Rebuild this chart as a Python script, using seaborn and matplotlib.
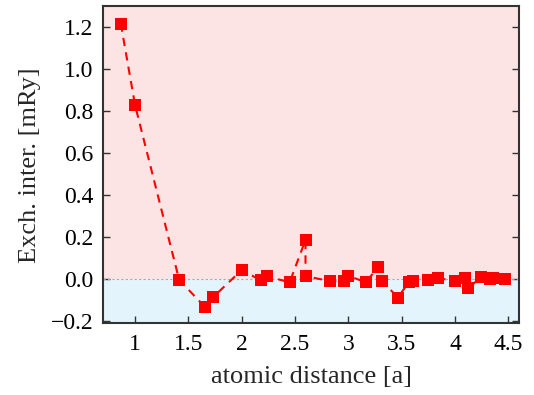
import numpy as np
import pandas as pd
import matplotlib
matplotlib.use('Agg')
import matplotlib.pyplot as plt
import seaborn as sns

# distances (bcc shells, units of a) and exchange interactions [mRy]
distance = [0.866, 1.0, 1.414, 1.658, 1.732, 2.0, 2.179, 2.236, 2.449, 2.598, 2.598,
            2.828, 2.958, 3.0, 3.162, 3.279, 3.317, 3.464, 3.571, 3.606, 3.742, 3.841,
            4.0, 4.093, 4.123, 4.243, 4.330, 4.359, 4.472]
exchange = [1.218, 0.829, -0.005, -0.134, -0.086, 0.043, -0.006, 0.014, -0.016, 0.187, 0.014,
            -0.010, -0.011, 0.015, -0.015, 0.056, -0.010, -0.088, -0.012, -0.008, -0.005, 0.005,
            -0.010, 0.005, -0.045, 0.010, 0.000, 0.005, 0.000]

xticks = [1, 1.5, 2, 2.5, 3, 3.5, 4, 4.5]
xticklabels = ['1', '1.5', '2', '2.5', '3', '3.5', '4', '4.5']
yticks = [-0.2, 0.0, 0.2, 0.4, 0.6, 0.8, 1.0, 1.2]
yticklabels = ['\u22120.2', '0.0', '0.2', '0.4', '0.6', '0.8', '1.0', '1.2']

df = pd.DataFrame({'d': distance, 'J': exchange})

sns.set_style('ticks')
plt.rcParams['font.family'] = ['Liberation Serif', 'DejaVu Serif']

fig = plt.figure(figsize=(5.34, 3.95), dpi=100)
ax = fig.add_axes([0.193, 0.182, 0.779, 0.802])

xmin, xmax = 0.70, 4.60
ymin, ymax = -0.21, 1.30

# fond rose (J > 0) et bleu (J < 0)
ax.axhspan(0, ymax, color='#fde4e4', zorder=0, lw=0)
ax.axhspan(ymin, 0, color='#e4f4fc', zorder=0, lw=0)
ax.axhline(0, color='#aaaaaa', lw=0.8, ls=(0, (2, 2)), zorder=1)

sns.lineplot(data=df, x='d', y='J', sort=False, estimator=None, ax=ax,
             color='red', lw=1.5, ls=(0, (4, 3)), marker='s', markersize=8,
             markeredgewidth=0, zorder=3)

ax.set_xlim(xmin, xmax)
ax.set_ylim(ymin, ymax)
ax.set_xticks(xticks)
ax.set_xticklabels(xticklabels)
ax.set_yticks(yticks)
ax.set_yticklabels(yticklabels)

ax.tick_params(direction='in', length=5, width=1, colors='#333333',
               labelcolor='black', labelsize=17, right=True, top=False)
ax.tick_params(axis='x', pad=8)
ax.tick_params(axis='y', pad=7)
for s in ax.spines.values():
    s.set_linewidth(1.5)
    s.set_color('#333333')

ax.set_xlabel('atomic distance [a]', fontsize=19, labelpad=8)
ax.set_ylabel('Exch. inter. [mRy]', fontsize=19, labelpad=7)

fig.savefig('out.png', dpi=100)
